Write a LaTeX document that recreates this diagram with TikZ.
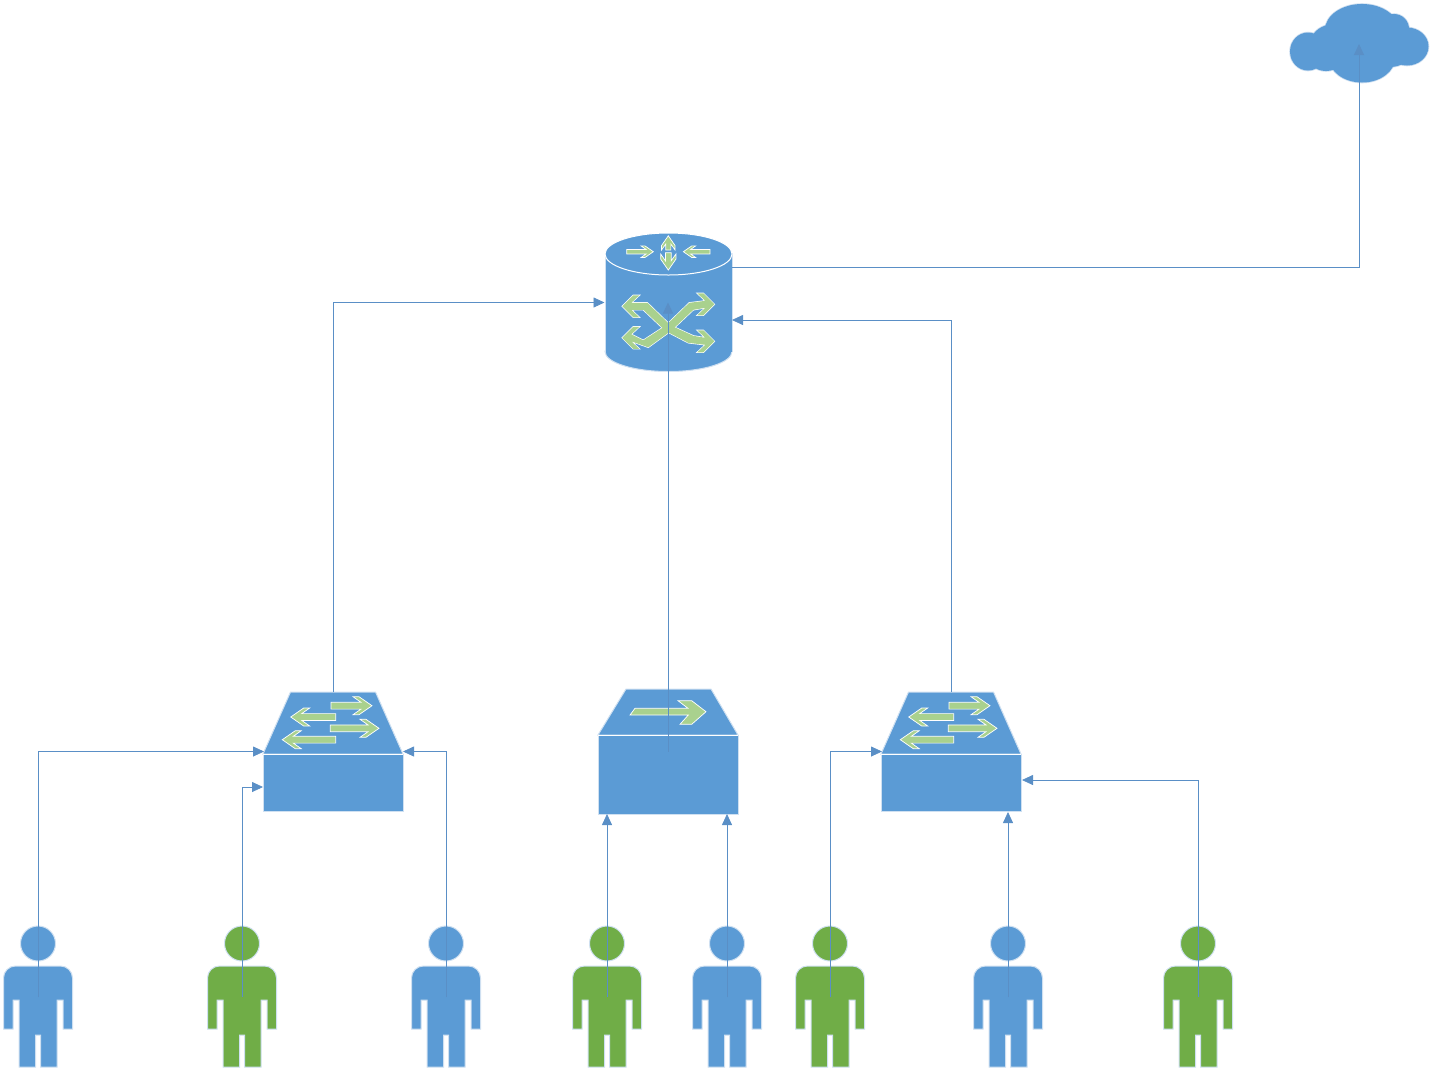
\documentclass[tikz,border=0pt]{standalone}
\usetikzlibrary{arrows.meta}
\definecolor{shapeblue}{HTML}{5B9BD5}
\definecolor{shapegreen}{HTML}{70AD47}
\definecolor{arrowgreen}{HTML}{A9D18E}
\definecolor{edgelight}{HTML}{CFE0F1}
\definecolor{linkblue}{HTML}{5A8FC6}
\newcommand{\flowarrow}[5]{%
  \begin{scope}[shift={(#1,#2)},rotate=#3,scale=#5]
    \filldraw[glyph] (0,-3.4) -- ({#4-11},-3.4) -- ({#4-19},-9) -- ({#4-13},-9) -- (#4,0)
      -- ({#4-13},9) -- ({#4-19},9) -- ({#4-11},3.4) -- (0,3.4) -- cycle;
  \end{scope}}
\newcommand{\armup}[4][]{%
  \path[#1,shift={(668.3,328.3)},xscale=#2]
    (-2.7,-2.6) -- (21,#3-3.5+#4) -- (37,#3-3.5) -- (29,#3-11) -- (35,#3-11) -- (46,#3)
    -- (35,#3+11) -- (29,#3+11) -- (37,#3+3.5) -- (25,#3+3.5+#4) -- (2.7,2.6) -- cycle;}
\newcommand{\armdown}[4][]{%
  \path[#1,shift={(668.3,328.3)},xscale=#2]
    (2,-3) -- (25,#3-3.5+#4) -- (37,#3-3.5) -- (29,#3-11) -- (35,#3-11) -- (46,#3)
    -- (35,#3+11) -- (29,#3+11) -- (37,#3+3.5) -- (20,#3+3.5+#4) -- (-2,3) -- cycle;}
\tikzset{
  glyph/.style={fill=arrowgreen,draw=white,line width=0.7pt,line join=miter},
  body/.style={fill=shapeblue,draw=edgelight,line width=1pt},
  box/.style={inner sep=0pt,outer sep=0pt,minimum width=#1},
  link/.style={draw=linkblue,line width=0.8pt,-{Triangle[length=11pt,width=10pt]}},
  person/.pic={
    \filldraw[fill=#1,draw=edgelight,line width=1pt] (0,-53.5) circle[radius=17.5pt];
    \filldraw[fill=#1,draw=edgelight,line width=1pt]
      (-34.5,32) [rounded corners=12pt] -- (-34.5,-31) -- (34.5,-31) [sharp corners] -- (34.5,32)
      -- (25,32) -- (25,3) -- (19,3) -- (19,70) -- (2.5,70) -- (2.5,38) -- (-2.5,38)
      -- (-2.5,70) -- (-19,70) -- (-19,3) -- (-25,3) -- (-25,32) -- cycle;
  },
  switchshape/.pic={
    \filldraw[body] (-42.5,-59.5) -- (42.5,-59.5) -- (70,2.5) -- (-70,2.5) -- cycle;
    \filldraw[body] (-70,2.5) rectangle (70,59.5);
    \draw[white,line width=1pt] (-70,2.5) -- (70,2.5);
    \flowarrow{-2}{-45.8}{0}{41}{1}
    \flowarrow{2.7}{-34.5}{180}{45}{1}
    \flowarrow{-2.7}{-23.2}{0}{48.7}{1}
    \flowarrow{2.7}{-11.8}{180}{53.4}{1}
  }
}
\newcommand{\cloudlobes}[1]{%
  \path[#1]
    (1362,30) ellipse[x radius=37pt,y radius=26pt]
    (1394,29) circle[radius=15pt]
    (1407,46.5) ellipse[x radius=21.5pt,y radius=19pt]
    (1362,58) ellipse[x radius=33pt,y radius=24.5pt]
    (1308,51.5) ellipse[x radius=18pt,y radius=19pt]
    (1326,53) ellipse[x radius=20pt,y radius=18pt]
    (1335,42) ellipse[x radius=24pt,y radius=18pt]
    (1390,50) ellipse[x radius=22pt,y radius=17pt];}
\begin{document}
\begin{tikzpicture}[x=1pt,y=-1pt]
\useasboundingbox (0,0) rectangle (1432,1069);

% cloud
\cloudlobes{draw=edgelight,line width=1.6pt}
\cloudlobes{fill=shapeblue}
\node[box=1pt,minimum height=1pt] (cloud) at (1359,44) {};

% router
\node[box=127pt,minimum height=139pt] (router) at (668,302.5) {};
\filldraw[body] (668.5,351.5) ellipse[x radius=63.5pt,y radius=20pt];
\fill[shapeblue] (605,253) rectangle (732,351.5);
\draw[edgelight,line width=1pt] (605,253) -- (605,351.5) (732,253) -- (732,351.5);
\filldraw[fill=shapeblue,draw=white,line width=1pt] (668.5,254) ellipse[x radius=63.5pt,y radius=21pt];
\flowarrow{626.7}{251.7}{0}{41}{0.65}
\flowarrow{710}{251.7}{180}{41}{0.65}
\flowarrow{668.3}{250}{90}{19}{0.75}
\flowarrow{668.3}{252.7}{-90}{20.5}{0.85}
\armup[draw=white,line width=1.3pt]{1}{-24}{2}
\armup[draw=white,line width=1.3pt]{-1}{-22}{0}
\armdown[draw=white,line width=1.3pt]{1}{13}{-2}
\armdown[draw=white,line width=1.3pt]{-1}{9.5}{6}
\armup[fill=arrowgreen]{1}{-24}{2}
\armup[fill=arrowgreen]{-1}{-22}{0}
\armdown[fill=arrowgreen]{1}{13}{-2}
\armdown[fill=arrowgreen]{-1}{9.5}{6}

% left and right switches
\pic at (333,751.5) {switchshape};
\node[box=140pt,minimum height=119pt] (swa) at (333,751.5) {};
\pic at (951,751.5) {switchshape};
\node[box=140pt,minimum height=119pt] (swc) at (951,751.5) {};

% middle switch
\node[box=140pt,minimum height=125pt] (swb) at (668,751.5) {};
\filldraw[body] (626,689) -- (711,689) -- (738,735) -- (598,735) -- cycle;
\filldraw[body] (598,735) rectangle (738,814);
\draw[white,line width=1pt] (598,735) -- (738,735);
\filldraw[glyph] (630,715) -- (635,708.3) -- (688,708.3) -- (678,700.7) -- (691.7,700.7)
  -- (706,711.7) -- (691.7,724.3) -- (680,724.3) -- (688.3,715) -- cycle;

% people
\foreach \px/\pc/\pn in {38/shapeblue/pa,242/shapegreen/pb,446/shapeblue/pc,607/shapegreen/pd,
    727/shapeblue/pe,830/shapegreen/pf,1008/shapeblue/pg,1198/shapegreen/ph}{
  \pic at (\px,997) {person=\pc};
  \node[box=70pt,minimum height=140pt] (\pn) at (\px,997) {};
}

% ports
\coordinate (swaport) at (263,787);
\coordinate (swawest) at (264,751.5);
\coordinate (swceast) at (882,751.5);
\coordinate (swbporta) at (607,814);
\coordinate (swbportb) at (727,814);
\coordinate (swcporta) at (1008,812);
\coordinate (swcportb) at (1022,780);
\coordinate (routerin) at (732,320);
\coordinate (routerout) at (732,267);

% connectors
\draw[link] (pa.center) |- (swawest);
\draw[link] (pb.center) |- (swaport);
\draw[link] (pc.center) |- (swa.east);
\draw[link] (pd.center) -- (swbporta);
\draw[link] (pe.center) -- (swbportb);
\draw[link] (pf.center) |- (swceast);
\draw[link] (pg.center) -- (swcporta);
\draw[link] (ph.center) |- (swcportb);
\draw[link] (swa.north) |- (router.west);
\draw[link] (swb.center) -- (router.center);
\draw[link] (swc.north) |- (routerin);
\draw[link] (routerout) -| (cloud.center);
\end{tikzpicture}
\end{document}
